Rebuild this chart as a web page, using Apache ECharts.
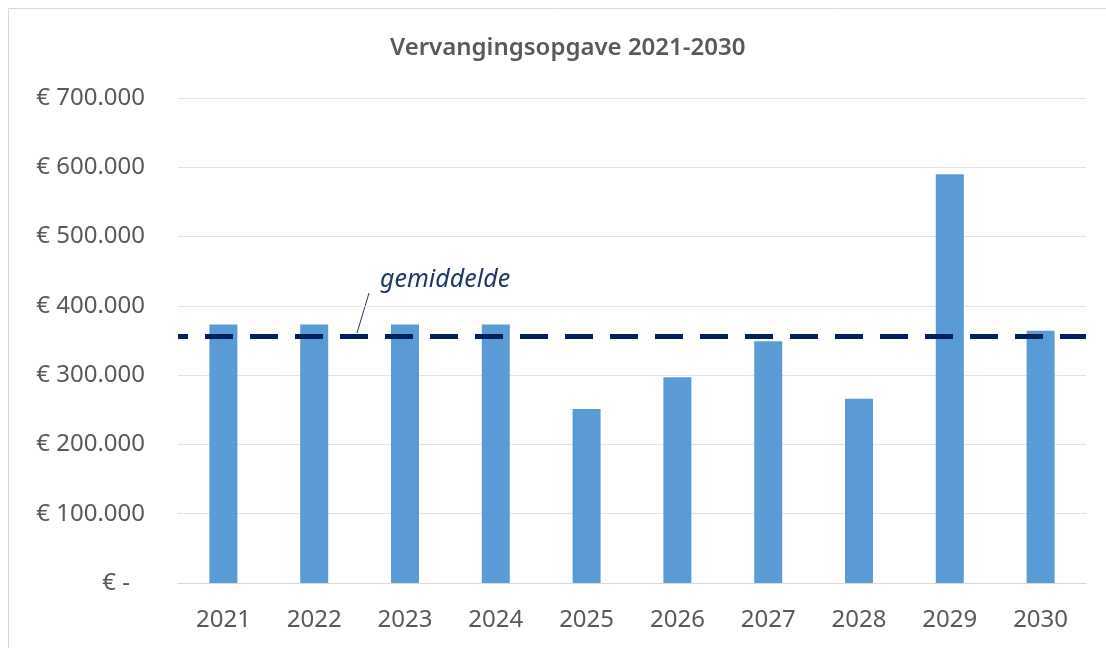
<!DOCTYPE html>
<html>
<head>
<meta charset="utf-8">
<script src="https://cdn.jsdelivr.net/npm/echarts@6/dist/echarts.min.js"></script>
<style>
  html, body { margin: 0; padding: 0; background: #fff; }
  #chart { width: 1106px; height: 648px; }
</style>
</head>
<body>
<div id="chart"></div>
<script>
// jaren en vervangingsbedragen
var years = ['2021', '2022', '2023', '2024', '2025', '2026', '2027', '2028', '2029', '2030'];
var amounts = [373000, 373000, 373000, 373000, 251000, 297000, 349000, 266000, 590000, 364000];
// gemiddelde zoals getekend
var avgValue = 356000;
var yTicks = { min: 0, max: 700000, interval: 100000 };

var textColor = '#595959';
var fontFam = '"Noto Sans", "DejaVu Sans", sans-serif';

function euro(v) {
    if (v === 0) return '{z|€ -}';
    return '€ ' + String(v).replace(/\B(?=(\d{3})+(?!\d))/g, '.');
}

var chart = echarts.init(document.getElementById('chart'));
var option = {
    backgroundColor: '#fff',
    animation: false,
    title: {
        text: 'Vervangingsopgave 2021-2030',
        left: 385,
        top: 31,
        textStyle: { color: textColor, fontSize: 24, fontWeight: 600, fontFamily: fontFam }
    },
    grid: { left: 178, right: 20, top: 98, bottom: 65 },
    xAxis: {
        type: 'category',
        data: years,
        axisLine: { lineStyle: { color: '#d9d9d9', width: 1 } },
        axisTick: { show: false },
        axisLabel: { color: textColor, fontSize: 24, fontFamily: fontFam, margin: 25 }
    },
    yAxis: {
        type: 'value',
        min: yTicks.min,
        max: yTicks.max,
        interval: yTicks.interval,
        axisLine: { show: false },
        axisTick: { show: false },
        splitLine: { lineStyle: { color: '#e3e3e3', width: 1 } },
        axisLabel: {
            color: textColor, fontSize: 24, fontFamily: fontFam, margin: 33,
            formatter: euro,
            rich: { z: { color: textColor, fontSize: 24, fontFamily: fontFam, padding: [0, 15, 0, 0] } }
        }
    },
    series: [{
        type: 'bar',
        data: amounts,
        barWidth: 28,
        itemStyle: { color: '#5b9bd5' },
        markLine: {
            silent: true,
            symbol: 'none',
            label: { show: false },
            lineStyle: { color: '#002060', width: 5, type: [28, 17], dashOffset: 18 },
            data: [{ yAxis: avgValue }]
        }
    }],
    graphic: [
        {
            type: 'rect',
            shape: { x: 8.5, y: 8.5, width: 1200, height: 700 },
            style: { fill: 'none', stroke: '#d9d9d9', lineWidth: 1 },
            z: -1
        },
        {
            type: 'text',
            left: 380,
            top: 267,
            style: {
                text: 'gemiddelde',
                fill: '#1f3864',
                font: 'italic 25px "Noto Sans", sans-serif'
            }
        },
        {
            type: 'line',
            shape: { x1: 369, y1: 293, x2: 357, y2: 333 },
            style: { stroke: '#1f3864', lineWidth: 1 }
        }
    ]
};
chart.setOption(option);
</script>
</body>
</html>
